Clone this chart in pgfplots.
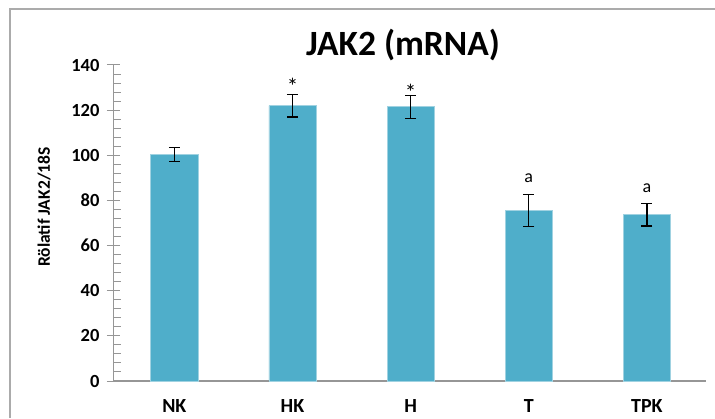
\documentclass[border=0pt]{standalone}
\usepackage{fontspec}
\setmainfont{Carlito}
\usepackage{pgfplots}
\pgfplotsset{compat=1.18}
\definecolor{barfill}{RGB}{79,174,202}
\definecolor{baredge}{RGB}{160,210,225}
\definecolor{axgray}{RGB}{150,150,150}
\begin{document}
\begin{tikzpicture}
\useasboundingbox (0,0) rectangle (715pt,418pt);
\draw[color=axgray!80, line width=1.2pt] (10pt,0pt) -- (10pt,409pt) -- (716pt,409pt);
\node[font=\fontsize{35.5}{38}\selectfont\bfseries, anchor=base] at (403pt,362pt) {JAK2 (mRNA)};
\begin{axis}[
  at={(113.5pt,37pt)}, anchor=south west,
  scale only axis, width=592.5pt, height=316pt,
  ymin=0, ymax=140, ytick={0,20,...,140},
  minor y tick num=4,
  xmin=-0.515, xmax=4.5,
  xtick={0,1,2,3,4},
  xticklabels={NK,HK,H,T,TPK},
  axis x line*=bottom, axis y line*=left,
  axis line style={color=axgray, line width=1.2pt, -},
  x axis line style={-},
  y axis line style={-},
  xtick style={draw=none},
  tick align=center,
  major tick length=13pt,
  minor tick length=7pt,
  ytick style={color=axgray, line width=1pt},
  minor y tick style={color=axgray, line width=1pt, xshift=3.5pt},
  /pgf/number format/assume math mode=true,
  yticklabel style={font=\fontsize{18.5}{20}\selectfont\bfseries, xshift=-4pt},
  xticklabel style={font=\fontsize{20}{22}\selectfont\bfseries, yshift=-8pt},
  ylabel={Rölatif JAK2/18S},
  ylabel style={font=\fontsize{17.5}{19}\selectfont\bfseries,
    at={(axis description cs:-0.117,0.55)}, anchor=center},
  clip=false,
]
\addplot[ybar, bar width=0.4, fill=barfill, draw=baredge, line width=0.6pt,
  error bars/.cd, y dir=both, y explicit,
  error bar style={black, line width=1.3pt},
  error mark options={black, rotate=90, mark size=5.5pt, line width=1.3pt}]
  coordinates {
    (0,100.4) +- (0,3.1)
    (1,122.0) +- (0,5.0)
    (2,121.5) +- (0,5.1)
    (3,75.6) +- (0,7.0)
    (4,73.7) +- (0,5.0)
  };
\addplot[draw=none, mark=none, nodes near coords, point meta=explicit symbolic,
  nodes near coords style={font=\fontsize{23}{24}\selectfont, anchor=center, inner sep=0pt}]
  table[meta=l] {
    x y l
    1 130.5 *
    2 127.8 *
  };
\addplot[draw=none, mark=none, nodes near coords, point meta=explicit symbolic,
  nodes near coords style={font=\fontsize{18}{20}\selectfont, anchor=center, inner sep=0pt}]
  table[meta=l] {
    x y l
    3 90.0 a
    4 85.5 a
  };
\end{axis}
\end{tikzpicture}
\end{document}
